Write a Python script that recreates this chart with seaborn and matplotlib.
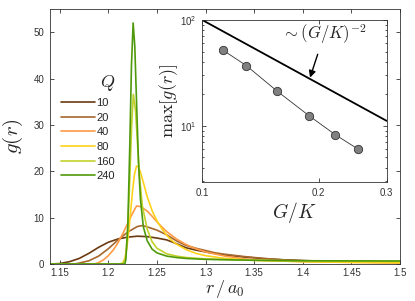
import numpy as np
import pandas as pd
import matplotlib
matplotlib.use('Agg')
import matplotlib.pyplot as plt
import seaborn as sns
from matplotlib.ticker import FixedLocator, NullLocator, FixedFormatter, LogLocator

# --- data ------------------------------------------------------------------
q_labels = ['10', '20', '40', '80', '160', '240']
q_colors = ['#6b3a10', '#a5672e', '#ff9a45', '#ffd21a', '#c2d12a', '#4f9a0c']

r_q10 = [1.14, 1.15, 1.16, 1.17, 1.18, 1.19, 1.20, 1.21, 1.22, 1.23, 1.24, 1.25,
         1.26, 1.27, 1.28, 1.29, 1.30, 1.31, 1.32, 1.34, 1.36, 1.38, 1.40, 1.43,
         1.46, 1.50]
g_q10 = [0.0, 0.1, 0.5, 1.2, 2.3, 3.6, 4.7, 5.4, 5.8, 6.0, 5.9, 5.6,
         5.2, 4.4, 3.5, 3.0, 2.6, 2.25, 1.95, 1.5, 1.15, 0.9, 0.75, 0.55,
         0.45, 0.35]

r_q20 = [1.14, 1.165, 1.17, 1.18, 1.19, 1.20, 1.21, 1.22, 1.23, 1.235, 1.24, 1.25,
         1.26, 1.27, 1.28, 1.29, 1.30, 1.31, 1.32, 1.34, 1.36, 1.38, 1.40, 1.45,
         1.50]
g_q20 = [0.0, 0.0, 0.2, 0.7, 1.7, 3.3, 5.2, 6.9, 8.1, 8.3, 8.0, 7.3,
         6.3, 5.0, 4.0, 3.4, 2.9, 2.4, 2.1, 1.6, 1.2, 0.9, 0.7, 0.45,
         0.3]

r_q40 = [1.14, 1.186, 1.19, 1.195, 1.20, 1.205, 1.21, 1.215, 1.22, 1.225, 1.229,
         1.233, 1.24, 1.245, 1.25, 1.255, 1.26, 1.27, 1.28, 1.29, 1.30, 1.32,
         1.34, 1.36, 1.40, 1.45, 1.50]
g_q40 = [0.0, 0.0, 0.3, 0.9, 1.8, 3.0, 4.6, 6.6, 8.8, 11.0, 12.5,
         12.4, 11.4, 10.3, 9.1, 8.0, 7.0, 5.4, 4.2, 3.3, 2.6, 1.7,
         1.1, 0.8, 0.5, 0.35, 0.25]

r_q80 = [1.14, 1.212, 1.215, 1.217, 1.219, 1.221, 1.223, 1.225, 1.227, 1.229,
         1.231, 1.233, 1.236, 1.24, 1.245, 1.25, 1.255, 1.26, 1.265, 1.27, 1.28,
         1.29, 1.30, 1.32, 1.35, 1.40, 1.45, 1.50]
g_q80 = [0.0, 0.0, 0.3, 1.2, 3.5, 7.0, 11.5, 16.0, 19.5, 21.1,
         21.0, 19.8, 17.6, 14.5, 11.5, 9.3, 7.6, 6.2, 5.1, 4.3, 3.1,
         2.3, 1.8, 1.2, 0.8, 0.5, 0.35, 0.25]

r_q160 = [1.14, 1.215, 1.218, 1.220, 1.222, 1.224, 1.2257, 1.228, 1.230, 1.232,
          1.235, 1.24, 1.245, 1.25, 1.26, 1.27, 1.28, 1.30, 1.35, 1.40, 1.50]
g_q160 = [0.0, 0.0, 1.5, 8.0, 18.0, 30.0, 36.6, 33.0, 26.0, 19.0,
          12.5, 7.5, 4.8, 3.4, 2.2, 1.7, 1.4, 1.1, 0.8, 0.65, 0.55]

r_q240 = [1.14, 1.217, 1.218, 1.220, 1.222, 1.2238, 1.2255, 1.2272, 1.229, 1.231,
          1.233, 1.236, 1.24, 1.245, 1.25, 1.26, 1.27, 1.28, 1.30, 1.35, 1.40,
          1.50]
g_q240 = [0.0, 0.0, 1.0, 8.0, 25.0, 43.0, 52.0, 47.0, 35.0, 22.0,
          14.0, 8.0, 5.0, 3.2, 2.4, 1.7, 1.4, 1.2, 1.0, 0.8, 0.7,
          0.65]

# inset: peak height vs G/K
gk = [0.113, 0.130, 0.156, 0.189, 0.221, 0.253]
gmax = [52.0, 37.0, 21.3, 12.4, 8.2, 6.0]
gk_guide = [0.1, 0.3]
gmax_guide = [100.0, 11.1]

# ---------------------------------------------------------------------------
sns.set_style("white")
plt.rcParams['font.family'] = ['Liberation Sans', 'DejaVu Sans']
plt.rcParams['mathtext.fontset'] = 'cm'

rs = [r_q10, r_q20, r_q40, r_q80, r_q160, r_q240]
gs = [g_q10, g_q20, g_q40, g_q80, g_q160, g_q240]
frames = []
for lab, r, g in zip(q_labels, rs, gs):
    frames.append(pd.DataFrame({'r': r, 'g': g, 'Q': lab}))
df = pd.concat(frames, ignore_index=True)

fig = plt.figure(figsize=(4.15, 3.01), dpi=100)
ax = fig.add_axes([0.1205, 0.1229, 0.8434, 0.8472])

sns.lineplot(data=df, x='r', y='g', hue='Q', hue_order=q_labels,
             palette=q_colors, linewidth=1.2, sort=False, estimator=None,
             ax=ax, legend=True)

ax.set_xlim(1.14, 1.5)
ax.set_ylim(0, 55)
ax.set_xticks([1.15, 1.2, 1.25, 1.3, 1.35, 1.4, 1.45, 1.5])
ax.set_xticklabels(['1.15', '1.2', '1.25', '1.3', '1.35', '1.4', '1.45', '1.5'])
ax.set_yticks([0, 10, 20, 30, 40, 50])
ax.tick_params(direction='in', bottom=True, left=True, top=True, right=True,
               length=3, width=0.6, labelsize=7, colors='#333333', pad=4)
ax.tick_params(axis='x', pad=3)
for s in ax.spines.values():
    s.set_linewidth(0.6)
    s.set_color('#333333')
ax.set_xlabel('$r\\,/\\,a_0$', fontsize=13, labelpad=0)
ax.set_ylabel('$g(r)$', fontsize=15, labelpad=6)

handles, labels = ax.get_legend_handles_labels()
leg = ax.legend(handles, labels, title='$Q$', frameon=False, fontsize=8,
                title_fontsize=13, loc='upper left',
                bbox_to_anchor=(0.02, 0.765), handlelength=3.0,
                handletextpad=0.15, labelspacing=0.42, alignment='right',
                borderaxespad=0)

# inset
axi = fig.add_axes([0.4875, 0.3953, 0.4443, 0.5382])
sns.lineplot(x=gk_guide, y=gmax_guide, color='black', linewidth=1.3, ax=axi)
sns.lineplot(x=gk, y=gmax, color='#333333', linewidth=0.6, marker='o',
             markersize=6, markerfacecolor='#808080', markeredgecolor='#333333',
             markeredgewidth=0.6, ax=axi)
axi.set_xscale('log')
axi.set_yscale('log')
axi.set_xlim(0.1, 0.3)
axi.set_ylim(2.93, 100)
axi.xaxis.set_major_locator(FixedLocator([0.1, 0.2, 0.3]))
axi.xaxis.set_major_formatter(FixedFormatter(['0.1', '0.2', '0.3']))
axi.xaxis.set_minor_locator(NullLocator())
axi.yaxis.set_major_locator(FixedLocator([10, 100]))
axi.yaxis.set_major_formatter(FixedFormatter(['$\\mathdefault{10^{1}}$',
                                              '$\\mathdefault{10^{2}}$']))
axi.yaxis.set_minor_locator(LogLocator(base=10, subs=np.arange(2, 10)))
axi.tick_params(which='both', direction='in', bottom=True, left=True,
                top=True, right=True, width=0.6, colors='#333333',
                labelsize=7, pad=4)
axi.tick_params(which='major', length=3)
axi.tick_params(which='minor', length=1.5)
for s in axi.spines.values():
    s.set_linewidth(0.6)
    s.set_color('#333333')
axi.set_xlabel('$G/K$', fontsize=14, labelpad=2)
axi.set_ylabel('$\\max[g(r)]$', fontsize=13, labelpad=0)
axi.annotate('$\\sim(G/K)^{-2}$', xy=(0.19, 28.5), xytext=(0.207, 74),
             ha='center', va='center', fontsize=12,
             arrowprops=dict(arrowstyle='-|>', color='black', lw=1.0,
                             shrinkA=4, shrinkB=0, mutation_scale=10))

fig.savefig('out.png', dpi=100)
